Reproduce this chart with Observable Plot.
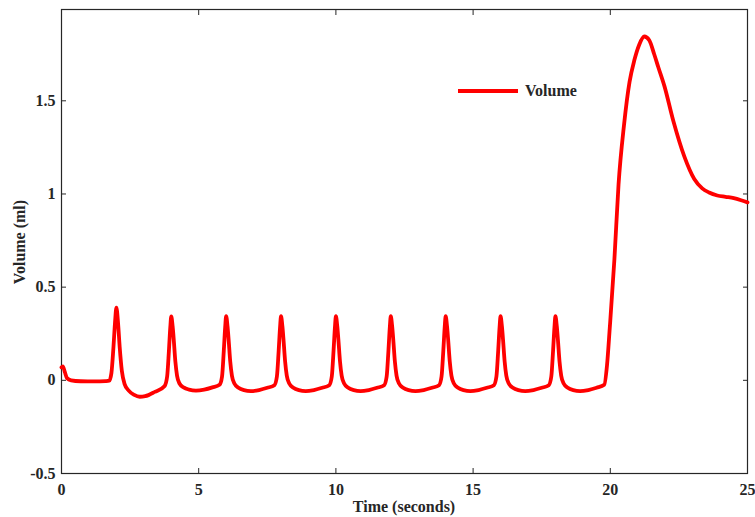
<!DOCTYPE html>
<html><head><meta charset="utf-8">
<script src="https://cdn.jsdelivr.net/npm/d3@7"></script>
<script src="https://cdn.jsdelivr.net/npm/@observablehq/plot@0.6"></script>
<style>html,body{margin:0;padding:0;background:#fff}</style>
</head><body><div id="chart"></div>
<script>
const timeSec = [
  0, 0.05, 0.12, 0.2, 0.35, 0.7, 1.2, 1.6, 1.74,
  1.82, 1.89, 1.95, 2.0, 2.06, 2.12, 2.2, 2.3, 2.45, 2.65, 2.85, 3.05, 3.4, 3.76,
  3.85, 3.915, 3.965, 4.0, 4.05, 4.09, 4.15, 4.21, 4.3, 4.45, 4.65, 4.9, 5.2, 5.5, 5.76,
  5.85, 5.915, 5.965, 6.0, 6.05, 6.09, 6.15, 6.21, 6.3, 6.45, 6.65, 6.9, 7.2, 7.5, 7.76,
  7.85, 7.915, 7.965, 8.0, 8.05, 8.09, 8.15, 8.21, 8.3, 8.45, 8.65, 8.9, 9.2, 9.5, 9.76,
  9.85, 9.915, 9.965, 10.0, 10.05, 10.09, 10.15, 10.21, 10.3, 10.45, 10.65, 10.9, 11.2, 11.5, 11.76,
  11.85, 11.915, 11.965, 12.0, 12.05, 12.09, 12.15, 12.21, 12.3, 12.45, 12.65, 12.9, 13.2, 13.5, 13.76,
  13.85, 13.915, 13.965, 14.0, 14.05, 14.09, 14.15, 14.21, 14.3, 14.45, 14.65, 14.9, 15.2, 15.5, 15.76,
  15.85, 15.915, 15.965, 16.0, 16.05, 16.09, 16.15, 16.21, 16.3, 16.45, 16.65, 16.9, 17.2, 17.5, 17.76,
  17.85, 17.915, 17.965, 18.0, 18.05, 18.09, 18.15, 18.21, 18.3, 18.45, 18.65, 18.9, 19.2, 19.5, 19.78,
  19.88, 19.98, 20.15, 20.3, 20.5, 20.7, 20.88, 21.05, 21.24, 21.42, 21.6, 21.75, 21.97,
  22.3, 22.7, 23.06, 23.35, 23.6, 23.9, 24.2, 24.5, 24.8, 25.0
];
const volumeMl = [
  0.07, 0.075, 0.045, 0.012, 0.0, -0.005, -0.006, -0.004, -0.002,
  0.04, 0.17, 0.31, 0.39, 0.31, 0.18, 0.05, -0.02, -0.055, -0.078, -0.088, -0.085, -0.062, -0.03,
  0.02, 0.16, 0.285, 0.343, 0.29, 0.22, 0.1, 0.025, -0.017, -0.038, -0.05, -0.055, -0.05, -0.038, -0.024,
  0.02, 0.16, 0.285, 0.345, 0.29, 0.22, 0.1, 0.025, -0.017, -0.04, -0.053, -0.058, -0.052, -0.04, -0.026,
  0.02, 0.16, 0.285, 0.344, 0.29, 0.22, 0.1, 0.025, -0.017, -0.04, -0.053, -0.058, -0.052, -0.04, -0.026,
  0.02, 0.16, 0.285, 0.344, 0.29, 0.22, 0.1, 0.025, -0.017, -0.04, -0.053, -0.058, -0.052, -0.04, -0.026,
  0.02, 0.16, 0.285, 0.344, 0.29, 0.22, 0.1, 0.025, -0.017, -0.04, -0.053, -0.058, -0.052, -0.04, -0.026,
  0.02, 0.16, 0.285, 0.344, 0.29, 0.22, 0.1, 0.025, -0.017, -0.04, -0.053, -0.058, -0.052, -0.04, -0.026,
  0.02, 0.16, 0.285, 0.344, 0.29, 0.22, 0.1, 0.025, -0.017, -0.04, -0.053, -0.058, -0.052, -0.04, -0.026,
  0.02, 0.16, 0.285, 0.344, 0.29, 0.22, 0.1, 0.025, -0.017, -0.04, -0.053, -0.058, -0.052, -0.04, -0.024,
  0.08, 0.28, 0.65, 1.05, 1.37, 1.6, 1.72, 1.8, 1.845, 1.825, 1.75, 1.68, 1.58,
  1.39, 1.2, 1.08, 1.03, 1.008, 0.992, 0.985, 0.978, 0.965, 0.955
];
const xTicks = [0, 5, 10, 15, 20, 25];
const yTicks = [-0.5, 0, 0.5, 1, 1.5];
const seriesName = "Volume";
const xLabel = "Time (seconds)";
const yLabel = "Volume (ml)";

const data = timeSec.map((t, i) => ({t, v: volumeMl[i]}));
const ink = "#262626";
const font = '"Liberation Serif","Times New Roman",serif';

const chart = Plot.plot({
  width: 755, height: 517,
  marginLeft: 61, marginRight: 8, marginTop: 9, marginBottom: 44,
  style: {fontFamily: font, fontSize: "16px", fontWeight: "bold", color: ink, background: "#fff"},
  x: {domain: [0, 25]},
  y: {domain: [-0.5, 1.99]},
  marks: [
    Plot.axisX(xTicks, {anchor: "bottom", tickSize: 0, tickPadding: 10, label: null, tickFormat: d => String(d)}),
    Plot.axisX(xTicks, {anchor: "bottom", tickSize: -5, tickFormat: () => "", label: null}),
    Plot.axisX(xTicks, {anchor: "top", tickSize: -5, tickFormat: () => "", label: null}),
    Plot.axisY(yTicks, {anchor: "left", tickSize: 0, tickPadding: 6, label: null, tickFormat: d => String(d)}),
    Plot.axisY(yTicks, {anchor: "left", tickSize: -5, tickFormat: () => "", label: null}),
    Plot.axisY(yTicks, {anchor: "right", tickSize: -5, tickFormat: () => "", label: null}),
    Plot.frame({stroke: ink, strokeWidth: 1.2}),
    Plot.line(data, {x: "t", y: "v", curve: "monotone-x", stroke: "#ff0000", strokeWidth: 3.8, strokeLinejoin: "round", strokeLinecap: "round"})
  ]
});
document.getElementById("chart").appendChild(chart);

const svg = d3.select(chart);
const g = svg.append("g").attr("font-family", font).attr("font-weight", "bold").attr("font-size", 16).attr("fill", ink);
g.append("text").attr("x", 404).attr("y", 512).attr("text-anchor", "middle").text(xLabel);
g.append("text").attr("transform", "translate(25,242) rotate(-90)").attr("text-anchor", "middle").text(yLabel);
// legend
g.append("line").attr("x1", 458).attr("x2", 518).attr("y1", 91).attr("y2", 91).attr("stroke", "#ff0000").attr("stroke-width", 4);
g.append("text").attr("x", 525).attr("y", 96).attr("text-anchor", "start").text(seriesName);
</script>
</body></html>
